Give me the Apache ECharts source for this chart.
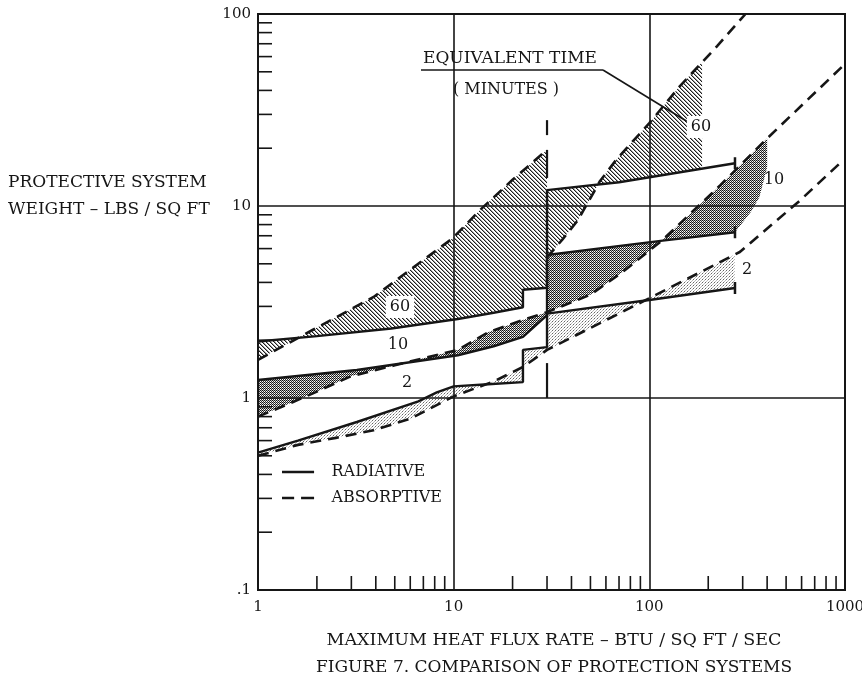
<!DOCTYPE html>
<html>
<head>
<meta charset="utf-8">
<script src="https://cdn.jsdelivr.net/npm/echarts@6/dist/echarts.min.js"></script>
<style>html,body{margin:0;padding:0;background:#fff}#c{width:862px;height:687px}</style>
</head>
<body>
<div id="c"></div>
<script>
// ---------------- data ----------------
const xTickLabels = ['1', '10', '100', '1000'];
const yTickLabels = ['.1', '1', '10', '100'];
const xMinorTicks = [2, 3, 4, 5, 6, 7, 8, 9, 20, 30, 40, 50, 60, 70, 80, 90, 200, 300, 400, 500, 600, 700, 800, 900];
const yMinorTicks = [0.2, 0.3, 0.4, 0.5, 0.6, 0.7, 0.8, 0.9, 2, 3, 4, 5, 6, 7, 8, 9, 20, 30, 40, 50, 60, 70, 80, 90];

// radiative systems (solid)
const radiative60 = [[1, 1.97], [2, 2.1], [4.8, 2.3], [10.5, 2.58], [16, 2.78], [22.6, 2.97], [22.6, 3.66], [30, 3.75], [30, 12.1], [70, 13.3], [274, 16.7]];
const radiative10 = [[1, 1.24], [3.2, 1.4], [10.5, 1.67], [16, 1.86], [22.6, 2.08], [30, 2.7], [30, 5.56], [117, 6.6], [274, 7.3]];
const radiative2 = [[1, 0.52], [1.6, 0.6], [3.2, 0.75], [6.6, 0.96], [8.2, 1.07], [10, 1.15], [15, 1.18], [22.6, 1.21], [22.6, 1.78], [30, 1.84], [30, 2.75], [100, 3.24], [274, 3.74]];

// absorptive systems (dashed)
const absorptive60a = [[1, 1.58], [1.9, 2.26], [3.9, 3.36], [9.9, 6.8], [13.6, 9.5], [20, 13.7], [30, 19.6]];
const absorptive60b = [[30, 5.4], [36, 6.7], [43, 8.4], [50, 11], [56, 13.5], [68, 17.5], [100, 27], [143, 42], [222, 68], [310, 100]];
const absorptive10 = [[1, 0.8], [1.5, 0.95], [2, 1.08], [3, 1.3], [5, 1.48], [10.5, 1.78], [15, 2.2], [22.6, 2.55], [30, 2.8], [50, 3.45], [73, 4.53], [117, 6.66], [230, 12.8], [391, 22], [983, 54]];
const absorptive2 = [[1, 0.5], [1.6, 0.57], [2.5, 0.62], [3.9, 0.68], [6, 0.78], [10, 1.02], [16, 1.22], [22.6, 1.45], [30, 1.78], [100, 3.31], [290, 5.76], [590, 10.7], [983, 17.4]];

// outline of the 10-minute shading beyond the end of the radiative line
const tenTail = [[274, 7.3], [330, 9.3], [365, 11.1], [400, 15.9]];
// vertical line pieces at 30 BTU
const x30Solid = [[30, 1], [30, 1.52]];
const x30Upper = [[30, 14], [30, 19.6]];
const x30Dash = [[30, 23.4], [30, 28]];

// ---------------- helpers ----------------
function logInterp(a, b, x) {
  const t = (Math.log(x) - Math.log(a[0])) / (Math.log(b[0]) - Math.log(a[0]));
  return [x, Math.exp(Math.log(a[1]) + t * (Math.log(b[1]) - Math.log(a[1])))];
}
function clipCurve(pts, x0, x1) {
  const out = [];
  const push = p => { const l = out[out.length - 1]; if (!l || l[0] !== p[0] || l[1] !== p[1]) out.push(p); };
  for (let i = 1; i < pts.length; i++) {
    const q = pts[i - 1], p = pts[i];
    if (q[0] === p[0]) { if (q[0] >= x0 && q[0] <= x1) { push(q); push(p); } continue; }
    const a = Math.max(q[0], x0), b = Math.min(p[0], x1);
    if (a > b) continue;
    push(a === q[0] ? q : logInterp(q, p, a));
    push(b === p[0] ? p : logInterp(q, p, b));
  }
  return out;
}
function makePattern(size, draw) {
  const c = document.createElement('canvas');
  c.width = c.height = size;
  const g = c.getContext('2d');
  draw(g, size);
  return { image: c, repeat: 'repeat' };
}
const hatch = makePattern(4, (g, s) => {
  for (let i = 0; i < s; i++) {
    g.fillStyle = '#1c1c1c'; g.fillRect(i, i, 1, 1);
    g.fillStyle = 'rgba(40,40,40,0.45)'; g.fillRect((i + 1) % s, i, 1, 1);
  }
});
const darkDots = makePattern(2, g => {
  g.fillStyle = '#121212'; g.fillRect(0, 0, 1, 1);
  g.fillStyle = 'rgba(20,20,20,0.9)'; g.fillRect(1, 1, 1, 1);
  g.fillStyle = 'rgba(20,20,20,0.3)'; g.fillRect(1, 0, 1, 1);
});
const lightDots = makePattern(3, g => {
  g.fillStyle = 'rgba(50,50,50,0.75)'; g.fillRect(0, 0, 1, 1);
  g.fillStyle = 'rgba(50,50,50,0.35)'; g.fillRect(1, 2, 1, 1);
  g.fillStyle = 'rgba(50,50,50,0.35)'; g.fillRect(2, 1, 1, 1);
});

const regions = [
  { lower: radiative60, upper: absorptive60a, x0: 1, x1: 30, fill: hatch },
  { lower: radiative60, upper: absorptive60b, x0: 30, x1: 186, fill: hatch },
  { lower: radiative10, upper: absorptive10, x0: 1, x1: 274, tail: tenTail, x1Upper: 400, fill: darkDots },
  { lower: radiative2, upper: absorptive2, x0: 1, x1: 274, fill: lightDots }
];
const polys = regions.map(r => {
  const low = clipCurve(r.lower, r.x0, r.x1);
  const up = clipCurve(r.upper, r.x0, r.x1Upper || r.x1).reverse();
  return low.concat(r.tail || [], up);
});

// ---------------- chart ----------------
const FONT = "'DejaVu Serif', 'Liberation Serif', serif";
const INK = '#161616';
const chart = echarts.init(document.getElementById('c'), null, { renderer: 'canvas' });

const series = [];
regions.forEach((r, i) => {
  series.push({
    type: 'custom', name: 'shade' + i, coordinateSystem: 'cartesian2d', clip: true, silent: true, z: 1,
    data: [[1, 1]],
    renderItem: (params, api) => ({
      type: 'polygon',
      shape: { points: polys[i].map(p => api.coord(p)) },
      style: { fill: r.fill }
    })
  });
});
series.push({
  type: 'custom', name: 'xminor', coordinateSystem: 'cartesian2d', silent: true, z: 6,
  data: xMinorTicks.map(v => [v, 0.1]),
  renderItem: (params, api) => {
    const c = api.coord([api.value(0), api.value(1)]);
    return { type: 'line', shape: { x1: c[0], y1: c[1], x2: c[0], y2: c[1] - 14 }, style: { stroke: INK, lineWidth: 1.6 } };
  }
});
series.push({
  type: 'custom', name: 'yminor', coordinateSystem: 'cartesian2d', silent: true, z: 6,
  data: yMinorTicks.map(v => [1, v]),
  renderItem: (params, api) => {
    const c = api.coord([api.value(0), api.value(1)]);
    return { type: 'line', shape: { x1: c[0], y1: c[1], x2: c[0] + 14, y2: c[1] }, style: { stroke: INK, lineWidth: 1.6 } };
  }
});
const lineBase = { type: 'line', symbol: 'none', showSymbol: false, silent: true, z: 10, animation: false };
[radiative60, radiative10, radiative2].forEach(d => series.push(Object.assign({}, lineBase, {
  name: 'RADIATIVE', data: d,
  lineStyle: { color: INK, width: 2.4, type: 'solid' }, itemStyle: { color: INK },
  markPoint: { symbol: 'rect', symbolSize: [2.5, 12], silent: true, animation: false, itemStyle: { color: INK }, label: { show: false }, data: [{ coord: d[d.length - 1] }] }
})));
[absorptive60a, absorptive60b, absorptive10, absorptive2].forEach(d => series.push(Object.assign({}, lineBase, {
  name: 'ABSORPTIVE', data: d,
  lineStyle: { color: INK, width: 2.6, type: [11, 7] }, itemStyle: { color: INK }
})));
[x30Solid, x30Upper, x30Dash].forEach(d => series.push(Object.assign({}, lineBase, {
  name: 'x30', data: d, lineStyle: { color: INK, width: 2.2 }, itemStyle: { color: INK }
})));

const txt = (x, y, text, extra, size) => Object.assign({
  type: 'text', x: x, y: y, z: 100,
  style: Object.assign({ text: text, font: (size || 16) + 'px ' + FONT, fill: INK, textAlign: 'left', align: 'left', textVerticalAlign: 'middle', verticalAlign: 'middle' }, extra || {})
});
const ctr = { textAlign: 'center', align: 'center' };
const boxed = { textAlign: 'center', align: 'center', backgroundColor: '#fff', padding: [3, 4, 3, 4] };

chart.setOption({
  animation: false,
  backgroundColor: '#fff',
  grid: { left: 258, right: 17, top: 14, bottom: 97, show: true, borderColor: INK, borderWidth: 2, containLabel: false, outerBoundsMode: 'none' },
  xAxis: {
    type: 'log', logBase: 10, min: 1, max: 1000,
    axisLine: { show: true, lineStyle: { color: INK, width: 2 } },
    axisTick: { show: false }, minorTick: { show: false },
    splitLine: { show: true, lineStyle: { color: INK, width: 1.6 } },
    axisLabel: { color: INK, fontFamily: FONT, fontSize: 15, margin: 10, formatter: v => xTickLabels[Math.round(Math.log10(v))] }
  },
  yAxis: {
    type: 'log', logBase: 10, min: 0.1, max: 100,
    axisLine: { show: true, lineStyle: { color: INK, width: 2 } },
    axisTick: { show: false }, minorTick: { show: false },
    splitLine: { show: true, lineStyle: { color: INK, width: 1.6 } },
    axisLabel: { color: INK, fontFamily: FONT, fontSize: 15, margin: 7, formatter: v => yTickLabels[Math.round(Math.log10(v)) + 1] }
  },
  legend: {
    orient: 'vertical', left: 277, top: 459,
    itemWidth: 37, itemHeight: 2.6, itemGap: 10, selectedMode: false,
    data: [
      { name: 'RADIATIVE', icon: 'path://M0,0H37V3H0Z' },
      { name: 'ABSORPTIVE', icon: 'path://M0,0H14V3H0Z M22,0H37V3H22Z' }
    ],
    textStyle: { fontFamily: FONT, fontSize: 16, color: INK, padding: [0, 0, 0, 10] }
  },
  graphic: [
    txt(8, 183, 'PROTECTIVE SYSTEM', null, 17),
    txt(8, 210, 'WEIGHT – LBS / SQ FT', null, 17),
    txt(554, 640, 'MAXIMUM HEAT FLUX RATE – BTU / SQ FT / SEC', ctr, 17.5),
    txt(554, 668, 'FIGURE 7. COMPARISON OF PROTECTION SYSTEMS', ctr, 17),
    txt(423, 59, 'EQUIVALENT TIME', null, 17),
    txt(506, 90, '( MINUTES )', ctr, 16),
    { type: 'line', z: 100, shape: { x1: 421, y1: 70, x2: 603, y2: 70 }, style: { stroke: INK, lineWidth: 1.6 } },
    { type: 'line', z: 100, shape: { x1: 603, y1: 70, x2: 688, y2: 122 }, style: { stroke: INK, lineWidth: 1.6 } },
    txt(400, 307, '60', boxed),
    txt(398, 345, '10', ctr),
    txt(407, 383, '2', ctr),
    txt(701, 127, '60', boxed),
    txt(774, 180, '10', ctr),
    txt(747, 270, '2', ctr)
  ],
  series: series
});
</script>
</body>
</html>
